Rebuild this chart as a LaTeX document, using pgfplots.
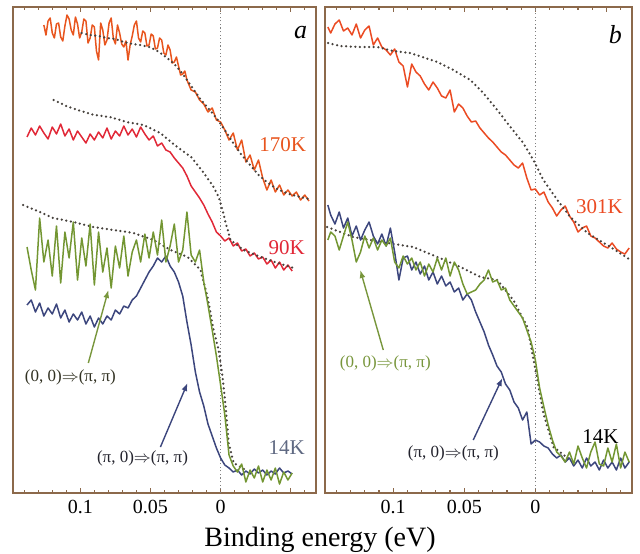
\documentclass[border=0pt]{standalone}
\usepackage{fontspec}
\setmainfont{Liberation Serif}
\usepackage{pgfplots}
\pgfplotsset{compat=1.18}
\usetikzlibrary{arrows.meta}

\definecolor{frame}{RGB}{140,105,75}
\definecolor{c170}{RGB}{232,85,30}
\definecolor{c90}{RGB}{225,40,55}
\definecolor{c301}{RGB}{235,75,35}
\definecolor{cgreen}{RGB}{115,150,50}
\definecolor{cblue}{RGB}{60,70,125}
\definecolor{cdot}{RGB}{70,65,60}
\definecolor{clab}{RGB}{95,105,130}
\definecolor{colive}{RGB}{120,150,60}

\pgfplotsset{
  panel/.style={
    scale only axis, height=243pt,
    xmin=-0.068, xmax=0.148, x dir=reverse,
    ymin=0, ymax=486, ytick=\empty,
    xtick={-0.05,0,0.05,0.1},
    xticklabels={,0,0.05,0.1},
    minor xtick={-0.06,-0.04,-0.03,-0.02,-0.01,0.01,0.02,0.03,0.04,0.06,0.07,0.08,0.09,0.11,0.12,0.13,0.14},
    tick align=inside, xtick pos=both, xticklabel pos=lower,
    major tick length=2.6pt, minor tick length=1.4pt,
    tick style={frame, line width=0.6pt},
    axis line style={frame, line width=1pt},
    ticklabel style={font=\fontsize{10}{12}\selectfont, text=black},
  },
  spec/.style={line width=0.75pt, line join=round},
  dots/.style={cdot, line width=1.25pt, line cap=round, dash pattern=on 0pt off 2.3pt},
  zero/.style={gray, line width=0.5pt, dash pattern=on 0.6pt off 1.2pt},
}

\begin{document}
\begin{tikzpicture}
\path[use as bounding box] (0,0) rectangle (320pt,276.5pt);

% panel a
\begin{axis}[panel, width=151.5pt, at={(6.5pt,30pt)}, anchor=south west]
\addplot[zero] coordinates {(0,0) (0,486)};
% 170K
\addplot[spec, c170] coordinates {
(0.126,468) (0.1245,458) (0.123,472) (0.1215,475) (0.120,460) (0.1185,455) (0.117,469) (0.1155,470)
(0.114,456) (0.1125,452) (0.111,467) (0.1095,478) (0.108,474) (0.1065,463) (0.105,458) (0.1035,476)
(0.102,469) (0.1005,455) (0.099,461) (0.0975,474) (0.096,472) (0.0945,450) (0.093,455) (0.0915,468)
(0.090,466) (0.0885,442) (0.087,433) (0.0855,470) (0.084,463) (0.0825,448) (0.081,453) (0.0795,470)
(0.078,475) (0.0765,455) (0.075,449) (0.0735,468) (0.072,460) (0.0705,449) (0.069,446) (0.0675,452)
(0.066,433) (0.0645,448) (0.063,457) (0.0615,468) (0.060,472) (0.0585,455) (0.057,451) (0.0555,462)
(0.054,460) (0.0525,447) (0.051,448) (0.0495,459) (0.048,457) (0.0465,444) (0.045,445) (0.0435,455)
(0.042,453) (0.0405,440) (0.039,438) (0.0375,448) (0.036,443) (0.0345,430) (0.033,431) (0.0315,436)
(0.030,427) (0.0285,418) (0.027,419) (0.0255,422) (0.024,413) (0.021,403) (0.018,401) (0.015,393)
(0.012,389) (0.009,381) (0.006,385) (0.003,373) (0.000,371) (-0.003,363) (-0.006,353) (-0.009,360)
(-0.012,343) (-0.015,353) (-0.018,331) (-0.021,338) (-0.024,323) (-0.027,333) (-0.030,315) (-0.033,303)
(-0.036,313) (-0.039,301) (-0.042,308) (-0.045,298) (-0.048,303) (-0.051,297) (-0.054,301) (-0.057,293)
(-0.060,298) (-0.063,292)};
\addplot[dots] coordinates {
(0.099,460) (0.093,458) (0.087,457) (0.081,455) (0.075,454) (0.069,451) (0.063,449) (0.057,448)
(0.051,446) (0.045,442) (0.039,436) (0.033,429) (0.027,419) (0.021,407) (0.015,395) (0.009,385)
(0.003,375) (-0.003,363) (-0.009,350) (-0.015,338) (-0.021,328) (-0.027,318) (-0.033,311) (-0.039,305)
(-0.045,301) (-0.051,298) (-0.057,296) (-0.063,294)};
% 90K
\addplot[spec, c90] coordinates {
(0.138,356) (0.135,365) (0.132,358) (0.129,367) (0.126,360) (0.123,354) (0.120,366) (0.117,359)
(0.114,369) (0.111,357) (0.108,364) (0.105,353) (0.102,362) (0.099,356) (0.096,350) (0.093,359)
(0.090,353) (0.087,361) (0.084,355) (0.081,365) (0.078,354) (0.075,362) (0.072,357) (0.069,367)
(0.066,358) (0.063,364) (0.060,356) (0.057,366) (0.054,359) (0.051,353) (0.048,357) (0.045,347)
(0.042,350) (0.039,343) (0.036,341) (0.033,335) (0.030,330) (0.027,325) (0.024,317) (0.021,307)
(0.018,301) (0.015,295) (0.012,288) (0.009,279) (0.006,271) (0.003,261) (0.000,257) (-0.003,252)
(-0.006,255) (-0.009,247) (-0.012,250) (-0.015,242) (-0.018,244) (-0.021,237) (-0.024,240) (-0.027,234)
(-0.030,236) (-0.033,229) (-0.036,233) (-0.039,225) (-0.042,231) (-0.045,223) (-0.048,228) (-0.051,222)};
\addplot[dots] coordinates {
(0.119,393) (0.110,387) (0.102,383) (0.090,378) (0.079,376) (0.067,371) (0.055,368) (0.043,360)
(0.031,346) (0.021,336) (0.012,320) (0.005,306) (0.0014,296) (-0.0014,283) (-0.0036,270) (-0.0071,253)
(-0.0164,243) (-0.0286,236) (-0.0407,230) (-0.052,225)};
% 14K
\addplot[dots] coordinates {
(0.1407,288) (0.1321,283) (0.1193,275) (0.105,271) (0.0907,266) (0.0764,263) (0.0621,260) (0.0479,253)
(0.0357,243) (0.0236,236) (0.0143,223) (0.0093,196) (0.005,163) (0.0014,143) (-0.0014,116) (-0.0036,86)
(-0.0057,50) (-0.0093,30) (-0.0179,23)};
\addplot[spec, cblue] coordinates {
(0.138,188) (0.135,193) (0.132,181) (0.129,190) (0.126,177) (0.123,185) (0.120,179) (0.117,189)
(0.114,175) (0.111,183) (0.108,171) (0.105,179) (0.102,173) (0.099,181) (0.096,169) (0.093,177)
(0.090,166) (0.087,175) (0.084,169) (0.081,177) (0.078,173) (0.075,183) (0.072,179) (0.069,187)
(0.066,185) (0.063,193) (0.060,197) (0.057,205) (0.054,213) (0.051,221) (0.048,227) (0.045,235)
(0.042,231) (0.039,237) (0.036,227) (0.033,221) (0.030,211) (0.027,197) (0.024,171) (0.021,148)
(0.018,121) (0.015,101) (0.012,87) (0.009,69) (0.006,57) (0.003,45) (0.000,35) (-0.003,28)
(-0.006,25) (-0.009,21) (-0.012,23) (-0.015,18) (-0.018,22) (-0.021,19) (-0.024,24) (-0.027,20)
(-0.030,23) (-0.033,18) (-0.036,22) (-0.039,19) (-0.042,25) (-0.045,20) (-0.048,22) (-0.051,19)};
\addplot[spec, cgreen] coordinates {
(0.138,246) (0.135,223) (0.132,203) (0.129,275) (0.126,231) (0.123,253) (0.120,217) (0.117,267)
(0.114,210) (0.111,261) (0.108,235) (0.105,271) (0.102,213) (0.099,255) (0.096,227) (0.093,269)
(0.090,208) (0.087,261) (0.084,221) (0.081,245) (0.078,205) (0.075,247) (0.072,225) (0.069,257)
(0.066,217) (0.063,241) (0.060,253) (0.057,231) (0.054,259) (0.051,235) (0.048,261) (0.045,238)
(0.042,273) (0.039,231) (0.036,247) (0.033,269) (0.030,231) (0.027,243) (0.024,281) (0.021,238)
(0.018,231) (0.015,243) (0.012,211) (0.009,188) (0.006,163) (0.003,137) (0.000,108) (-0.003,78)
(-0.006,38) (-0.009,27) (-0.012,21) (-0.015,29) (-0.018,11) (-0.021,23) (-0.024,15) (-0.027,27)
(-0.030,11) (-0.033,23) (-0.036,13) (-0.039,25) (-0.042,9) (-0.045,21) (-0.048,13) (-0.051,20)};
\node[text=c170, font=\fontsize{10.5}{12}\selectfont] at (axis cs:-0.0443,348) {170K};
\node[text=c90, font=\fontsize{10.5}{12}\selectfont] at (axis cs:-0.0471,245) {90K};
\node[text=clab, font=\fontsize{10.5}{12}\selectfont] at (axis cs:-0.0471,45) {14K};
\node[font=\fontsize{13}{15}\selectfont\itshape] at (axis cs:-0.0571,460) {a};
\node[text={rgb,255:red,50;green,50;blue,35}, font=\fontsize{8.5}{10}\selectfont] at (axis cs:0.1071,116) {(0, 0)$\Rightarrow$(π, π)};
\node[text={rgb,255:red,35;green,35;blue,45}, font=\fontsize{8.5}{10}\selectfont] at (axis cs:0.0557,35) {(π, 0)$\Rightarrow$(π, π)};
\draw[colive, line width=0.7pt, -{Latex[length=4pt,width=3pt]}] (axis cs:0.0943,130) -- (axis cs:0.080,203);
\draw[cblue, line width=0.7pt, -{Latex[length=4pt,width=3pt]}] (axis cs:0.0429,46) -- (axis cs:0.0236,110);
\end{axis}

% panel b
\begin{axis}[panel, width=153.5pt, at={(162.5pt,30pt)}, anchor=south west]
\addplot[zero] coordinates {(0,0) (0,486)};
% 301K
\addplot[spec, c301] coordinates {
(0.146,466) (0.144,460) (0.141,469) (0.138,473) (0.135,462) (0.132,465) (0.129,458) (0.126,469)
(0.123,455) (0.120,463) (0.117,467) (0.114,448) (0.111,455) (0.108,446) (0.105,443) (0.102,438)
(0.099,444) (0.096,431) (0.093,427) (0.090,406) (0.087,429) (0.084,421) (0.081,417) (0.078,409)
(0.075,403) (0.072,411) (0.069,405) (0.066,397) (0.063,395) (0.060,403) (0.057,381) (0.054,389)
(0.051,385) (0.048,377) (0.045,371) (0.042,372) (0.039,365) (0.036,360) (0.033,355) (0.030,351)
(0.027,346) (0.024,341) (0.021,338) (0.018,333) (0.015,328) (0.012,325) (0.009,330) (0.006,315)
(0.003,303) (0.000,304) (-0.003,298) (-0.006,301) (-0.009,291) (-0.012,285) (-0.015,277) (-0.018,283)
(-0.021,287) (-0.024,277) (-0.027,271) (-0.030,261) (-0.033,265) (-0.036,267) (-0.039,257) (-0.042,255)
(-0.045,251) (-0.048,247) (-0.051,245) (-0.054,250) (-0.057,244) (-0.060,241) (-0.063,239) (-0.066,245)};
\addplot[dots] coordinates {
(0.1458,450) (0.1373,447) (0.1232,446) (0.1113,446) (0.100,442) (0.088,440) (0.069,431) (0.0577,423)
(0.0458,413) (0.0366,400) (0.0268,383) (0.0176,366) (0.0085,350) (0.0014,333) (-0.0056,313) (-0.0155,293)
(-0.0246,276) (-0.0366,260) (-0.0528,246) (-0.0669,233)};
% 14K
\addplot[dots] coordinates {
(0.1465,266) (0.1282,256) (0.1042,250) (0.0859,246) (0.069,236) (0.0528,226) (0.0387,216) (0.0268,213)
(0.0155,193) (0.0056,166) (-0.0014,113) (-0.0056,80) (-0.0127,46) (-0.0246,33)};
\addplot[spec, cblue] coordinates {
(0.146,288) (0.144,278) (0.141,269) (0.138,281) (0.135,265) (0.132,275) (0.129,257) (0.126,267)
(0.123,253) (0.120,263) (0.117,271) (0.114,257) (0.111,249) (0.108,259) (0.105,247) (0.102,265)
(0.099,241) (0.096,213) (0.093,235) (0.090,237) (0.087,223) (0.084,231) (0.081,219) (0.078,227)
(0.075,213) (0.072,221) (0.069,209) (0.066,217) (0.063,207) (0.060,211) (0.057,201) (0.054,205)
(0.051,193) (0.048,199) (0.045,193) (0.042,181) (0.039,171) (0.036,161) (0.033,148) (0.030,138)
(0.027,127) (0.024,121) (0.021,109) (0.018,103) (0.015,91) (0.012,85) (0.009,73) (0.006,81)
(0.003,49) (0.000,53) (-0.003,51) (-0.006,47) (-0.009,45) (-0.012,39) (-0.015,35) (-0.018,38)
(-0.021,31) (-0.024,35) (-0.027,27) (-0.030,33) (-0.033,25) (-0.036,35) (-0.039,27) (-0.042,31)
(-0.045,23) (-0.048,33) (-0.051,25) (-0.054,31) (-0.057,23) (-0.060,35) (-0.063,25) (-0.066,31)};
\addplot[spec, cgreen] coordinates {
(0.146,253) (0.144,261) (0.141,257) (0.138,243) (0.135,257) (0.132,271) (0.129,253) (0.126,231)
(0.123,241) (0.120,257) (0.117,245) (0.114,255) (0.111,243) (0.108,253) (0.105,247) (0.102,255)
(0.099,231) (0.096,225) (0.093,237) (0.090,229) (0.087,235) (0.084,223) (0.081,231) (0.078,217)
(0.075,229) (0.072,221) (0.069,235) (0.066,223) (0.063,235) (0.060,217) (0.057,231) (0.054,223)
(0.051,209) (0.048,199) (0.045,201) (0.042,203) (0.039,209) (0.036,213) (0.033,223) (0.030,211)
(0.027,213) (0.024,203) (0.021,205) (0.018,193) (0.015,187) (0.012,181) (0.009,175) (0.006,163)
(0.003,151) (0.000,133) (-0.003,105) (-0.006,86) (-0.009,68) (-0.012,53) (-0.015,41) (-0.018,37)
(-0.021,31) (-0.024,41) (-0.027,29) (-0.030,47) (-0.033,35) (-0.036,25) (-0.039,41) (-0.042,51)
(-0.045,29) (-0.048,27) (-0.051,45) (-0.054,31) (-0.057,49) (-0.060,25) (-0.063,41) (-0.066,31)};
\node[text=c301, font=\fontsize{10.5}{12}\selectfont] at (axis cs:-0.0451,286) {301K};
\node[text=black, font=\fontsize{10.5}{12}\selectfont] at (axis cs:-0.0458,56) {14K};
\node[font=\fontsize{13}{15}\selectfont\itshape] at (axis cs:-0.0563,458) {b};
\node[text=colive, font=\fontsize{8.5}{10}\selectfont] at (axis cs:0.1056,130) {(0, 0)$\Rightarrow$(π, π)};
\node[text={rgb,255:red,35;green,35;blue,45}, font=\fontsize{8.5}{10}\selectfont] at (axis cs:0.0577,40) {(π, 0)$\Rightarrow$(π, π)};
\draw[colive, line width=0.7pt, -{Latex[length=4pt,width=3pt]}] (axis cs:0.107,143) -- (axis cs:0.1232,223);
\draw[cblue, line width=0.7pt, -{Latex[length=4pt,width=3pt]}] (axis cs:0.0437,53) -- (axis cs:0.0232,115);
\end{axis}

\node[font=\fontsize{14}{16}\selectfont] at (160pt,6.5pt) {Binding energy (eV)};
\end{tikzpicture}
\end{document}
